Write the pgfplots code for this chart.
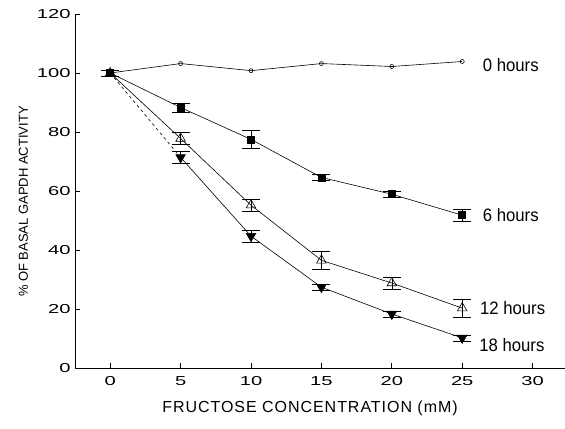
\documentclass[border=0pt]{standalone}
\usepackage{pgfplots}
\pgfplotsset{compat=1.18}
\usepackage{fontspec}
\setmainfont{Liberation Sans}
\newfontfamily\spaced[LetterSpace=6]{Liberation Sans}
\usepackage{graphicx}

\newcommand{\curvelabel}[1]{\fontsize{18bp}{20bp}\selectfont\scalebox{0.93}[1]{#1}}

\begin{document}
\begin{tikzpicture}[x=1bp,y=1bp]
\useasboundingbox (0,0) rectangle (565,428);
\begin{axis}[
  at={(75bp,60bp)}, anchor=south west,
  scale only axis, width=490bp, height=354bp,
  xmin=-2.5, xmax=32.3, ymin=0, ymax=120,
  axis x line=bottom, axis y line=left,
  axis line style={-, line width=0.8pt},
  xtick={0,5,...,30}, ytick={0,20,...,120},
  tick align=inside, major tick length=5bp,
  tick style={line width=0.7pt, black},
  /pgf/number format/assume math mode=true,
  xticklabel={\scalebox{1.55}[1]{\pgfmathprintnumber{\tick}}},
  yticklabel={\scalebox{1.55}[1]{\pgfmathprintnumber{\tick}}},
  ticklabel style={font=\fontsize{13bp}{15bp}\selectfont},
  xticklabel style={yshift=-5bp},
  yticklabel style={xshift=-1bp},
  xlabel={\spaced FRUCTOSE CONCENTRATION (mM)},
  ylabel={\% OF BASAL GAPDH ACTIVITY},
  xlabel style={font=\fontsize{16bp}{18bp}\selectfont, yshift=-8bp, xshift=-10bp},
  ylabel style={font=\fontsize{13bp}{15bp}\selectfont, yshift=2bp, at={(ticklabel cs:0.47)}},
  clip=false,
  every axis plot/.append style={black, line width=0.6pt},
  error bars/y dir=both, error bars/y explicit,
  error bars/error mark options={rotate=90, mark size=9bp, line width=0.7pt},
]
% 0 hours
\addplot[mark=o, mark size=2bp, error bars/y dir=none] coordinates {
  (0,100) (5,103.2) (10,100.8) (15,103.2) (20,102.2) (25,103.9)};
% 6 hours
\addplot[mark=square*, mark size=3.5bp] coordinates {
  (0,100) +- (0,1)
  (5,88.3) +- (0,1.5)
  (10,77.5) +- (0,3)
  (15,64.6) +- (0,1)
  (20,58.9) +- (0,1)
  (25,51.8) +- (0,2)};
% 12 hours
\addplot[mark=triangle, mark size=5.5bp] coordinates {
  (0,100) +- (0,1)
  (5,77.8) +- (0,2)
  (10,55.2) +- (0,2)
  (15,36.5) +- (0,3)
  (20,28.8) +- (0,2)
  (25,20.3) +- (0,3)};
% 18 hours: first segment dashed
\addplot[dashed, no markers, error bars/y dir=none] coordinates {(0,100) (5,71.4)};
\addplot[mark=triangle*, mark size=5.5bp, mark options={rotate=180}] coordinates {
  (5,71.4) +- (0,2)
  (10,44.7) +- (0,2)
  (15,27.4) +- (0,1)
  (20,18.3) +- (0,1)
  (25,10.2) +- (0,1)};
% curve labels
\node[anchor=west, inner sep=0pt] at (axis cs:26.45,102.7) {\curvelabel{0 hours}};
\node[anchor=west, inner sep=0pt] at (axis cs:26.45,51.9) {\curvelabel{6 hours}};
\node[anchor=west, inner sep=0pt] at (axis cs:26.25,20.3) {\curvelabel{12 hours}};
\node[anchor=west, inner sep=0pt] at (axis cs:26.2,7.8) {\curvelabel{18 hours}};
\end{axis}
\end{tikzpicture}
\end{document}
